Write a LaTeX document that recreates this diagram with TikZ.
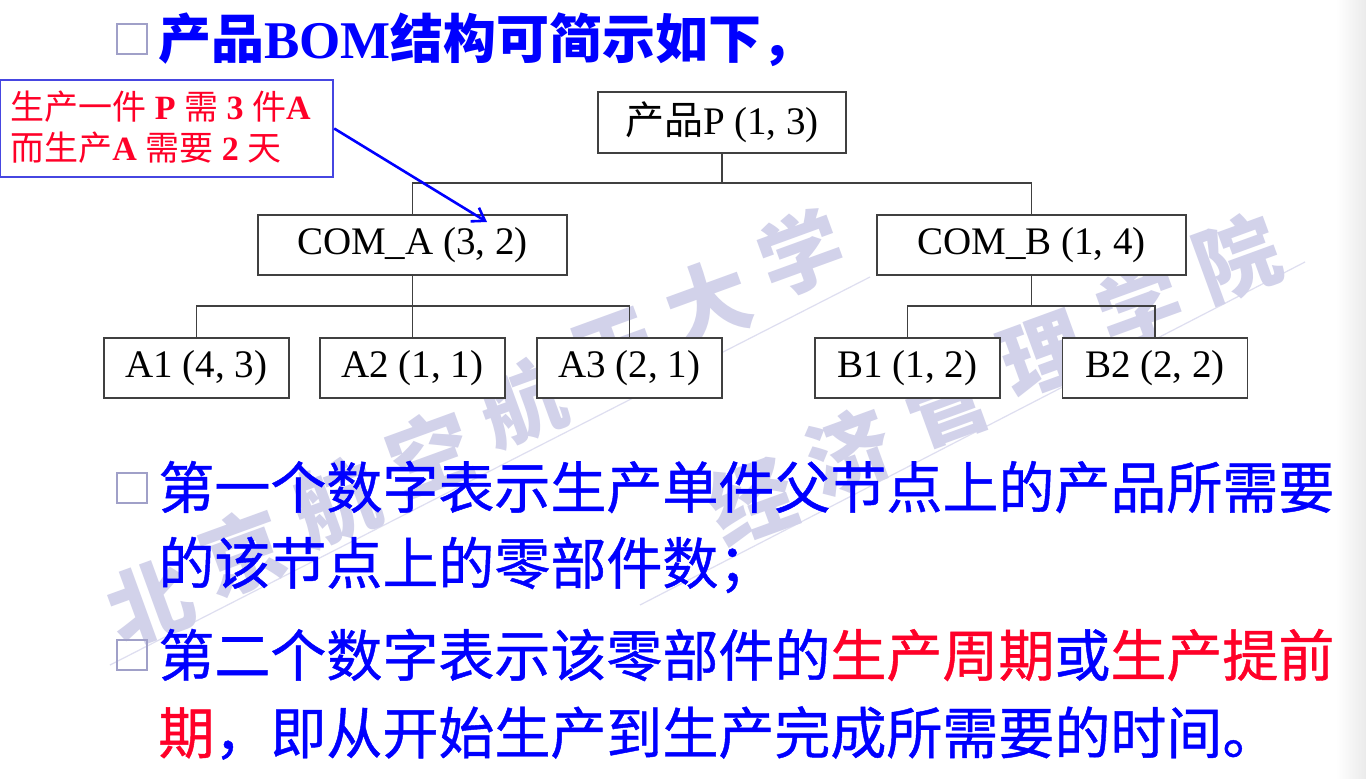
\documentclass[tikz,border=0pt]{standalone}
\usepackage{fontspec}
\setmainfont{Liberation Serif}
\newfontfamily\cjk{Noto Sans CJK SC}
\newfontfamily\cjkb{Noto Sans CJK SC}[FakeBold=0.8]
\usetikzlibrary{arrows.meta}
\definecolor{tblue}{RGB}{0,0,255}
\definecolor{tred}{RGB}{255,0,40}
\definecolor{wm}{RGB}{210,210,234}
\definecolor{wmline}{RGB}{222,222,240}
\definecolor{sqc}{RGB}{160,160,200}
\definecolor{nb}{RGB}{70,70,225}
\begin{document}
\begin{tikzpicture}[x=0.5pt,y=-0.5pt,
  bom/.style={draw=black!75, line width=0.6pt, fill=white, inner sep=0pt, minimum height=30pt, font=\fontsize{19.5}{22}\selectfont},
  leaf/.style={bom, minimum width=92.5pt},
  mid/.style={bom, minimum width=154.5pt},
  conn/.style={draw=black!75, line width=0.6pt},
  sqbox/.style={draw=sqc, line width=1.3pt, minimum width=15pt, minimum height=15pt, inner sep=0pt},
  body/.style={anchor=west, inner sep=0pt, text=tblue, font=\cjkb\fontsize{28}{32}\selectfont},
  notetext/.style={anchor=west, inner sep=0pt, text=tred, font=\fontsize{17}{20}\selectfont},
  wmk/.style={text=wm, inner sep=0pt, rotate=20, font=\cjk\bfseries\fontsize{42}{44}\selectfont},
  arr/.style={draw=tblue, line width=1.3pt, -{Straight Barb[length=6pt,width=8pt]}}]
% background
\fill[white] (0,0) rectangle (1366,778);
\useasboundingbox (0,0) rectangle (1366,778);
\shade[left color=white, right color=black!8] (1336,0) rectangle (1366,778);
% watermark
\draw[wmline, line width=0.6pt] (110,665) -- (870,277);
\draw[wmline, line width=0.6pt] (640,605) -- (1305,262);
\foreach \c [count=\i from 0] in {北,京,航,空,航,天,大,学}
  \node[wmk] (wa\i) at ({150+93*\i},{602-50*\i}) {\c};
\foreach \c [count=\i from 0] in {经,济,管,理,学,院}
  \node[wmk] (wb\i) at ({752+97*\i},{500-48.5*\i}) {\c};
% title
\node[sqbox] (sq0) at (132,39) {};
\node[anchor=west, inner sep=0pt, text=tblue, font=\fontsize{26.5}{30}\selectfont] (title) at (158,40)
  {{\cjk\bfseries 产品}\textbf{BOM}{\cjk\bfseries 结构可简示如下，}};
% callout
\node[draw=nb, line width=1.2pt, fill=white, minimum width=166.5pt, minimum height=48.5pt, inner sep=0pt] (note) at (166.5,128.5) {};
\node[notetext] (n1) at (10,107) {{\cjk 生产一件} \textbf{P} {\cjk 需} \textbf{3} {\cjk 件}\textbf{A}};
\node[notetext] (n2) at (10,148) {{\cjk 而生产}\textbf{A} {\cjk 需要} \textbf{2} {\cjk 天}};
% tree
\node[bom, minimum width=124pt, minimum height=30.5pt] (P) at (722,122.5) {{\cjk 产品}P (1, 3)};
\node[mid] (CA) at (412.5,245) {COM\_A (3, 2)};
\node[mid] (CB) at (1031.5,245) {COM\_B (1, 4)};
\node[leaf] (A1) at (196.5,368) {A1 (4, 3)};
\node[leaf] (A2) at (412.5,368) {A2 (1, 1)};
\node[leaf] (A3) at (629.5,368) {A3 (2, 1)};
\node[leaf] (B1) at (907.5,368) {B1 (1, 2)};
\node[leaf] (B2) at (1155,368) {B2 (2, 2)};
\coordinate (j0) at (722,183);
\coordinate (ja) at (412.5,306);
\coordinate (jb) at (1031.5,306);
\draw[conn] (P.south) -- (j0);
\draw[conn] (CA.north) |- (j0) -| (CB.north);
\draw[conn] (CA.south) -- (ja);
\draw[conn] (A1.north) |- (ja) -| (A3.north);
\draw[conn] (ja) -- (A2.north);
\draw[conn] (CB.south) -- (jb);
\draw[conn] (B1.north) |- (jb) -| (B2.north);
% arrow
\coordinate (tip) at (487,222);
\draw[arr] (note.east) -- (tip);
% bullets
\node[sqbox] (sq1) at (132,488) {};
\node[body] (b1a) at (158,487) {第一个数字表示生产单件父节点上的产品所需要};
\node[body] (b1b) at (158,565) {的该节点上的零部件数；};
\node[sqbox] (sq2) at (132,655) {};
\node[body] (b2a) at (158,655) {第二个数字表示该零部件的\textcolor{tred}{生产周期}或\textcolor{tred}{生产提前}};
\node[body] (b2b) at (158,733) {\textcolor{tred}{期}，即从开始生产到生产完成所需要的时间。};
\end{tikzpicture}
\end{document}
